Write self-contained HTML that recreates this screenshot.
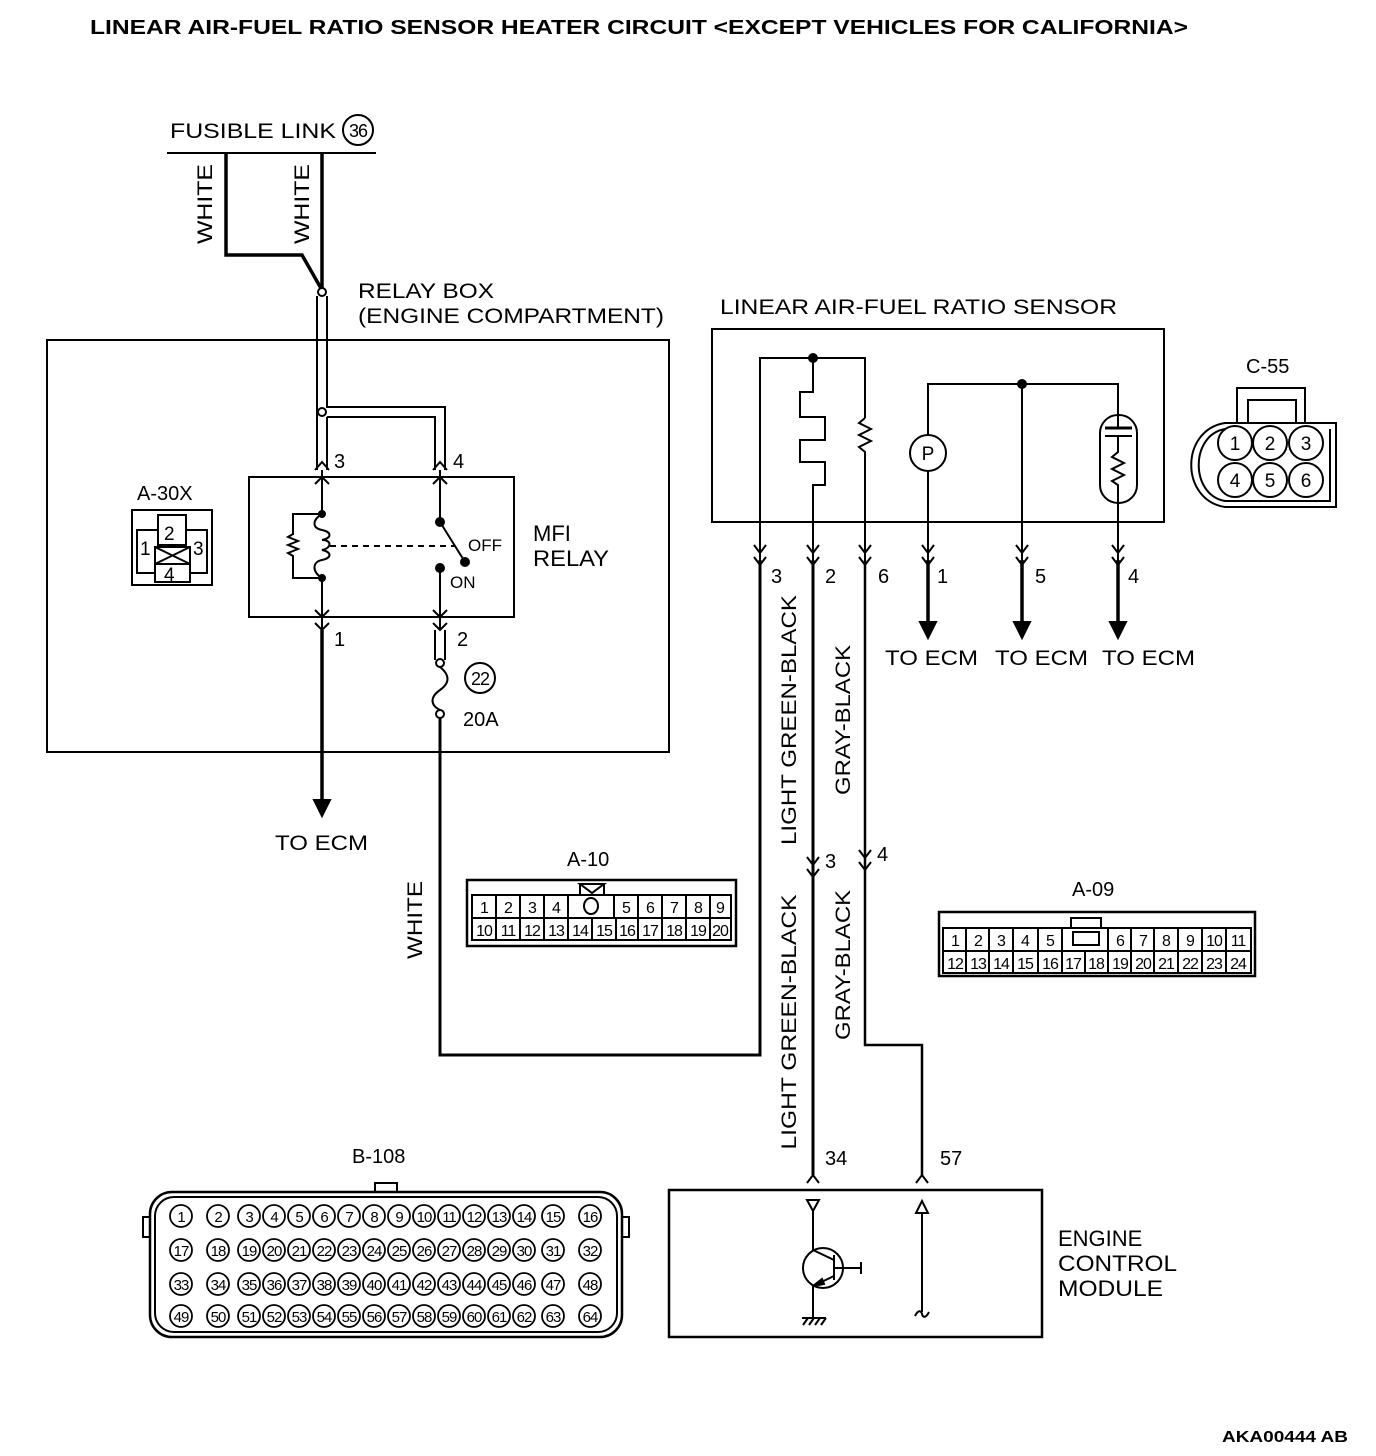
<!DOCTYPE html>
<html><head><meta charset="utf-8"><style>
html,body{margin:0;padding:0;background:#fff;}
svg{display:block;}
text{font-family:"Liberation Sans",Arial,sans-serif;fill:#000;}
</style></head><body>
<svg width="1376" height="1456" viewBox="0 0 1376 1456" xmlns="http://www.w3.org/2000/svg">
<g stroke="#000" fill="none" stroke-width="2">
<line x1="167" y1="153" x2="376" y2="153"/>
<circle cx="358" cy="130" r="15"/>
<polyline points="226,153 226,255 302,255 322,290" stroke-width="3.5"/>
<line x1="322" y1="153" x2="322" y2="290" stroke-width="3.5"/>
<circle cx="322" cy="292" r="4" fill="#fff"/>
<rect x="47" y="340" width="622" height="412"/>
<line x1="317" y1="296" x2="317" y2="470"/>
<line x1="327" y1="296" x2="327" y2="407"/>
<line x1="327" y1="417" x2="327" y2="470"/>
<circle cx="322" cy="412" r="4" fill="#fff"/>
<polyline points="326,407 445,407 445,470"/>
<polyline points="327,417 435,417 435,470"/>
<path d="M315,470 L322,462 L329,470 M315,484 L322,477 L329,484 M433,470 L440,462 L447,470 M433,484 L440,477 L447,484"/>
<rect x="249" y="477" width="265" height="140"/>
<line x1="322" y1="470" x2="322" y2="514"/>
<line x1="322" y1="578" x2="322" y2="630"/>
<path d="M322,514 C312,520 312,528 322,530 C332,532 332,538 322,540 C332,540 332,548 322,550 C332,552 332,558 322,560 C312,562 312,572 322,578"/>
<circle cx="322" cy="514" r="3" fill="#000"/>
<circle cx="322" cy="578" r="3" fill="#000"/>
<polyline points="322,514 293,514 293,534 288,537 298,541 288,545 298,549 288,553 293,556 293,578 322,578"/>
<line x1="330" y1="546" x2="455" y2="546" stroke-dasharray="6,5"/>
<line x1="440" y1="470" x2="440" y2="522"/>
<circle cx="440" cy="522" r="4" fill="#000"/>
<line x1="440" y1="522" x2="465" y2="562"/>
<circle cx="465" cy="562" r="4" fill="#000"/>
<circle cx="440" cy="568" r="4" fill="#000"/>
<line x1="440" y1="568" x2="440" y2="630"/>
<path d="M315,610 L322,617 L329,610 M315,623 L322,630 L329,623 M433,610 L440,617 L447,610 M433,623 L440,630 L447,623"/>
<line x1="322" y1="630" x2="322" y2="800" stroke-width="3.5"/>
<polygon points="314,800 330,800 322,816" fill="#000"/>
<line x1="435" y1="630" x2="435" y2="660"/>
<line x1="445" y1="630" x2="445" y2="660"/>
<circle cx="440" cy="663" r="4" fill="#fff"/>
<path d="M440,667 C450,675 450,683 440,690 C430,697 430,705 440,710"/>
<circle cx="440" cy="714" r="4" fill="#fff"/>
<circle cx="480" cy="678" r="15"/>
<polyline points="440,718 440,1055 760,1055 760,560" stroke-width="3"/>
<rect x="132" y="510" width="80" height="75"/>
<rect x="137" y="530" width="70" height="43"/>
<rect x="158" y="515" width="28" height="30" fill="#fff"/>
<rect x="155" y="547" width="35" height="35" fill="#fff"/>
<line x1="155" y1="564" x2="190" y2="564"/>
<line x1="155" y1="547" x2="190" y2="564"/>
<line x1="190" y1="547" x2="155" y2="564"/>
<rect x="712" y="329" width="452" height="193"/>
<polyline points="760,560 760,358 865,358 865,418"/>
<circle cx="813" cy="358" r="4" fill="#000"/>
<polyline points="813,358 813,392 800,392 800,417 825,417 825,440 800,440 800,462 825,462 825,485 813,485 813,560"/>
<polyline points="865,418 859,423 871,429 859,435 871,441 859,447 865,452 865,560"/>
<circle cx="928" cy="453" r="18"/>
<polyline points="928,435 928,384 1118,384 1118,428"/>
<line x1="928" y1="471" x2="928" y2="560"/>
<circle cx="1022" cy="384" r="4" fill="#000"/>
<line x1="1022" y1="384" x2="1022" y2="560"/>
<rect x="1100" y="415" width="37" height="88" rx="18"/>
<line x1="1105" y1="428" x2="1132" y2="428" stroke-width="3"/>
<line x1="1105" y1="436" x2="1132" y2="436" stroke-width="2"/>
<polyline points="1118,436 1118,452 1112,457 1124,463 1112,469 1124,475 1112,481 1118,485 1118,560"/>
<path d="M754,545 L760,553 L766,545 M754,557 L760,565 L766,557 M807,545 L813,553 L819,545 M807,557 L813,565 L819,557 M859,545 L865,553 L871,545 M859,557 L865,565 L871,557 M922,545 L928,553 L934,545 M922,557 L928,565 L934,557 M1016,545 L1022,553 L1028,545 M1016,557 L1022,565 L1028,557 M1112,545 L1118,553 L1124,545 M1112,557 L1118,565 L1124,557"/>
<g stroke-width="3.5"><line x1="928" y1="560" x2="928" y2="622"/><line x1="1022" y1="560" x2="1022" y2="622"/><line x1="1118" y1="560" x2="1118" y2="622"/></g>
<polygon points="920,622 936,622 928,638" fill="#000"/>
<polygon points="1014,622 1030,622 1022,638" fill="#000"/>
<polygon points="1110,622 1126,622 1118,638" fill="#000"/>
<line x1="813" y1="560" x2="813" y2="1175" stroke-width="3"/>
<polyline points="865,560 865,1045 922,1045 922,1175" stroke-width="2.5"/>
<path d="M807,857 L813,865 L819,857 M807,869 L813,877 L819,869 M859,850 L865,858 L871,850 M859,862 L865,870 L871,862"/>
<rect x="1237" y="388" width="68" height="35"/>
<rect x="1248" y="400" width="48" height="23"/>
<path d="M1336,423 L1336,507 L1225,507 C1180,500 1180,430 1225,423 Z"/>
<path d="M1330,429 L1330,501 L1225,501 C1190,495 1190,435 1225,429"/>
<circle cx="1235" cy="443" r="17"/><circle cx="1270" cy="443" r="17"/><circle cx="1306" cy="443" r="17"/>
<circle cx="1235" cy="480" r="17"/><circle cx="1270" cy="480" r="17"/><circle cx="1306" cy="480" r="17"/>
<rect x="467" y="880" width="269" height="66" stroke-width="2.5"/>
<path d="M472,895 L731,895 L731,940 L472,940 Z M472,918 L731,918"/>
<path d="M496,895V940 M520,895V940 M544,895V940 M568,895V918 M614,895V918 M592,918V940 M638,895V940 M662,895V940 M686,895V940 M710,895V940 M568,918V940 M616,918V940"/>
<path d="M580,884 L604,884 L592,893 Z M580,884 L580,895 M604,884 L604,895"/>
<ellipse cx="591" cy="906" rx="7" ry="8"/>
<rect x="939" y="912" width="316" height="64" stroke-width="2.5"/>
<path d="M943,928 L1251,928 L1251,973 L943,973 Z M943,951 L1251,951"/>
<path d="M966,928V973 M989,928V973 M1013,928V973 M1038,928V973 M1062,928V973 M1085,951V973 M1108,928V973 M1131,928V973 M1154,928V973 M1178,928V973 M1202,928V973 M1226,928V973"/>
<rect x="1071" y="918" width="30" height="10"/>
<rect x="1073" y="932" width="26" height="13"/>
<rect x="375" y="1183" width="22" height="9"/>
<rect x="150" y="1192" width="472" height="145" rx="22" stroke-width="2.5"/>
<rect x="155" y="1197" width="462" height="135" rx="19"/>
<rect x="143" y="1217" width="7" height="20"/>
<rect x="622" y="1217" width="7" height="20"/>
<path d="M807,1183 L813,1175 L819,1183 M916,1183 L922,1175 L928,1183"/>
<rect x="669" y="1190" width="373" height="147" stroke-width="2.5"/>
<polygon points="807,1200 819,1200 813,1211"/>
<line x1="813" y1="1211" x2="813" y2="1250"/>
<circle cx="823" cy="1268" r="20"/>
<line x1="834" y1="1255" x2="834" y2="1280"/>
<line x1="813" y1="1250" x2="834" y2="1260"/>
<line x1="834" y1="1276" x2="813" y2="1286"/>
<polygon points="813,1286 822,1279 824,1284" fill="#000"/>
<line x1="834" y1="1268" x2="861" y2="1268"/>
<line x1="861" y1="1262" x2="861" y2="1274"/>
<line x1="813" y1="1286" x2="813" y2="1318"/>
<path d="M802,1318 L826,1318 M803,1325 L808,1318 M809,1325 L814,1318 M815,1325 L820,1318 M821,1325 L826,1318"/>
<polygon points="916,1213 928,1213 922,1201"/>
<line x1="922" y1="1213" x2="922" y2="1312"/>
<path d="M915,1316 C918,1310 921,1310 922,1314 C923,1318 926,1318 929,1312"/>
</g>
<g font-size="13">
<g stroke="#000" stroke-width="1.8" fill="none">
<circle cx="181" cy="1216" r="11"/><circle cx="218" cy="1216" r="11"/><circle cx="553" cy="1216" r="11"/><circle cx="590" cy="1216" r="11"/>
<circle cx="181" cy="1250" r="11"/><circle cx="218" cy="1250" r="11"/><circle cx="553" cy="1250" r="11"/><circle cx="590" cy="1250" r="11"/>
<circle cx="181" cy="1284" r="11"/><circle cx="218" cy="1284" r="11"/><circle cx="553" cy="1284" r="11"/><circle cx="590" cy="1284" r="11"/>
<circle cx="181" cy="1316" r="11"/><circle cx="218" cy="1316" r="11"/><circle cx="553" cy="1316" r="11"/><circle cx="590" cy="1316" r="11"/>
<circle cx="249" cy="1216" r="11"/><circle cx="274" cy="1216" r="11"/><circle cx="299" cy="1216" r="11"/><circle cx="324" cy="1216" r="11"/><circle cx="349" cy="1216" r="11"/><circle cx="374" cy="1216" r="11"/><circle cx="399" cy="1216" r="11"/><circle cx="424" cy="1216" r="11"/><circle cx="449" cy="1216" r="11"/><circle cx="474" cy="1216" r="11"/><circle cx="499" cy="1216" r="11"/><circle cx="524" cy="1216" r="11"/>
<circle cx="249" cy="1250" r="11"/><circle cx="274" cy="1250" r="11"/><circle cx="299" cy="1250" r="11"/><circle cx="324" cy="1250" r="11"/><circle cx="349" cy="1250" r="11"/><circle cx="374" cy="1250" r="11"/><circle cx="399" cy="1250" r="11"/><circle cx="424" cy="1250" r="11"/><circle cx="449" cy="1250" r="11"/><circle cx="474" cy="1250" r="11"/><circle cx="499" cy="1250" r="11"/><circle cx="524" cy="1250" r="11"/>
<circle cx="249" cy="1284" r="11"/><circle cx="274" cy="1284" r="11"/><circle cx="299" cy="1284" r="11"/><circle cx="324" cy="1284" r="11"/><circle cx="349" cy="1284" r="11"/><circle cx="374" cy="1284" r="11"/><circle cx="399" cy="1284" r="11"/><circle cx="424" cy="1284" r="11"/><circle cx="449" cy="1284" r="11"/><circle cx="474" cy="1284" r="11"/><circle cx="499" cy="1284" r="11"/><circle cx="524" cy="1284" r="11"/>
<circle cx="249" cy="1316" r="11"/><circle cx="274" cy="1316" r="11"/><circle cx="299" cy="1316" r="11"/><circle cx="324" cy="1316" r="11"/><circle cx="349" cy="1316" r="11"/><circle cx="374" cy="1316" r="11"/><circle cx="399" cy="1316" r="11"/><circle cx="424" cy="1316" r="11"/><circle cx="449" cy="1316" r="11"/><circle cx="474" cy="1316" r="11"/><circle cx="499" cy="1316" r="11"/><circle cx="524" cy="1316" r="11"/>
</g>
<g text-anchor="middle" font-size="15" letter-spacing="-1">
<text x="181" y="1222">1</text><text x="218" y="1222">2</text><text x="249" y="1222">3</text><text x="274" y="1222">4</text><text x="299" y="1222">5</text><text x="324" y="1222">6</text><text x="349" y="1222">7</text><text x="374" y="1222">8</text><text x="399" y="1222">9</text><text x="424" y="1222">10</text><text x="449" y="1222">11</text><text x="474" y="1222">12</text><text x="499" y="1222">13</text><text x="524" y="1222">14</text><text x="553" y="1222">15</text><text x="590" y="1222">16</text>
<text x="181" y="1256">17</text><text x="218" y="1256">18</text><text x="249" y="1256">19</text><text x="274" y="1256">20</text><text x="299" y="1256">21</text><text x="324" y="1256">22</text><text x="349" y="1256">23</text><text x="374" y="1256">24</text><text x="399" y="1256">25</text><text x="424" y="1256">26</text><text x="449" y="1256">27</text><text x="474" y="1256">28</text><text x="499" y="1256">29</text><text x="524" y="1256">30</text><text x="553" y="1256">31</text><text x="590" y="1256">32</text>
<text x="181" y="1290">33</text><text x="218" y="1290">34</text><text x="249" y="1290">35</text><text x="274" y="1290">36</text><text x="299" y="1290">37</text><text x="324" y="1290">38</text><text x="349" y="1290">39</text><text x="374" y="1290">40</text><text x="399" y="1290">41</text><text x="424" y="1290">42</text><text x="449" y="1290">43</text><text x="474" y="1290">44</text><text x="499" y="1290">45</text><text x="524" y="1290">46</text><text x="553" y="1290">47</text><text x="590" y="1290">48</text>
<text x="181" y="1322">49</text><text x="218" y="1322">50</text><text x="249" y="1322">51</text><text x="274" y="1322">52</text><text x="299" y="1322">53</text><text x="324" y="1322">54</text><text x="349" y="1322">55</text><text x="374" y="1322">56</text><text x="399" y="1322">57</text><text x="424" y="1322">58</text><text x="449" y="1322">59</text><text x="474" y="1322">60</text><text x="499" y="1322">61</text><text x="524" y="1322">62</text><text x="553" y="1322">63</text><text x="590" y="1322">64</text>
</g>
<g text-anchor="middle" font-size="16" letter-spacing="-1">
<text x="484" y="913">1</text><text x="508" y="913">2</text><text x="532" y="913">3</text><text x="556" y="913">4</text><text x="626" y="913">5</text><text x="650" y="913">6</text><text x="674" y="913">7</text><text x="698" y="913">8</text><text x="720" y="913">9</text>
<text x="484" y="936">10</text><text x="508" y="936">11</text><text x="532" y="936">12</text><text x="556" y="936">13</text><text x="580" y="936">14</text><text x="604" y="936">15</text><text x="627" y="936">16</text><text x="650" y="936">17</text><text x="674" y="936">18</text><text x="698" y="936">19</text><text x="720" y="936">20</text>
<text x="955" y="946">1</text><text x="978" y="946">2</text><text x="1001" y="946">3</text><text x="1025" y="946">4</text><text x="1050" y="946">5</text><text x="1120" y="946">6</text><text x="1143" y="946">7</text><text x="1166" y="946">8</text><text x="1190" y="946">9</text><text x="1214" y="946">10</text><text x="1238" y="946">11</text>
<text x="955" y="969">12</text><text x="978" y="969">13</text><text x="1001" y="969">14</text><text x="1025" y="969">15</text><text x="1050" y="969">16</text><text x="1073" y="969">17</text><text x="1096" y="969">18</text><text x="1120" y="969">19</text><text x="1143" y="969">20</text><text x="1166" y="969">21</text><text x="1190" y="969">22</text><text x="1214" y="969">23</text><text x="1238" y="969">24</text>
</g>
</g>
<g font-size="21">
<text x="90" y="34" font-weight="bold" font-size="20" textLength="1098" lengthAdjust="spacingAndGlyphs">LINEAR AIR-FUEL RATIO SENSOR HEATER CIRCUIT &lt;EXCEPT VEHICLES FOR CALIFORNIA&gt;</text>
<text x="170" y="138" textLength="166" lengthAdjust="spacingAndGlyphs">FUSIBLE LINK</text>
<text x="358" y="137" font-size="18" text-anchor="middle" letter-spacing="-1">36</text>
<text transform="translate(212,204) rotate(-90)" text-anchor="middle" textLength="80" lengthAdjust="spacingAndGlyphs">WHITE</text>
<text transform="translate(309,204) rotate(-90)" text-anchor="middle" textLength="80" lengthAdjust="spacingAndGlyphs">WHITE</text>
<text x="358" y="298" textLength="136" lengthAdjust="spacingAndGlyphs">RELAY BOX</text>
<text x="358" y="323" textLength="306" lengthAdjust="spacingAndGlyphs">(ENGINE COMPARTMENT)</text>
<text x="137" y="500" font-size="20">A-30X</text>
<text x="164" y="540" font-size="19">2</text>
<text x="140" y="555" font-size="19">1</text>
<text x="193" y="555" font-size="19">3</text>
<text x="164" y="581" font-size="19">4</text>
<text x="334" y="468" font-size="20">3</text>
<text x="453" y="468" font-size="20">4</text>
<text x="468" y="551" font-size="17">OFF</text>
<text x="450" y="588" font-size="17">ON</text>
<text x="533" y="541" font-size="22">MFI</text>
<text x="533" y="566" font-size="22" textLength="76" lengthAdjust="spacingAndGlyphs">RELAY</text>
<text x="334" y="646" font-size="20">1</text>
<text x="457" y="646" font-size="20">2</text>
<text x="480" y="685" font-size="18" text-anchor="middle" letter-spacing="-1">22</text>
<text x="463" y="726" font-size="20">20A</text>
<text x="275" y="850" textLength="93" lengthAdjust="spacingAndGlyphs">TO ECM</text>
<text transform="translate(422,920) rotate(-90)" text-anchor="middle" textLength="78" lengthAdjust="spacingAndGlyphs">WHITE</text>
<text x="720" y="314" textLength="397" lengthAdjust="spacingAndGlyphs">LINEAR AIR-FUEL RATIO SENSOR</text>
<text x="928" y="460" text-anchor="middle" font-size="19">P</text>
<text x="1246" y="373" font-size="20">C-55</text>
<g text-anchor="middle" font-size="19"><text x="1235" y="450">1</text><text x="1270" y="450">2</text><text x="1306" y="450">3</text><text x="1235" y="487">4</text><text x="1270" y="487">5</text><text x="1306" y="487">6</text></g>
<g font-size="20"><text x="771" y="583">3</text><text x="825" y="583">2</text><text x="878" y="583">6</text><text x="937" y="583">1</text><text x="1035" y="583">5</text><text x="1128" y="583">4</text></g>
<text x="885" y="665" textLength="93" lengthAdjust="spacingAndGlyphs">TO ECM</text>
<text x="995" y="665" textLength="93" lengthAdjust="spacingAndGlyphs">TO ECM</text>
<text x="1102" y="665" textLength="93" lengthAdjust="spacingAndGlyphs">TO ECM</text>
<text transform="translate(796,720) rotate(-90)" text-anchor="middle" textLength="250" lengthAdjust="spacingAndGlyphs">LIGHT GREEN-BLACK</text>
<text transform="translate(850,720) rotate(-90)" text-anchor="middle" textLength="150" lengthAdjust="spacingAndGlyphs">GRAY-BLACK</text>
<g font-size="20"><text x="825" y="868">3</text><text x="877" y="861">4</text></g>
<text transform="translate(796,1022) rotate(-90)" text-anchor="middle" textLength="255" lengthAdjust="spacingAndGlyphs">LIGHT GREEN-BLACK</text>
<text transform="translate(850,965) rotate(-90)" text-anchor="middle" textLength="150" lengthAdjust="spacingAndGlyphs">GRAY-BLACK</text>
<text x="567" y="866" font-size="20">A-10</text>
<text x="1072" y="896" font-size="20">A-09</text>
<text x="352" y="1163" font-size="20">B-108</text>
<text x="825" y="1165" font-size="20">34</text>
<text x="940" y="1165" font-size="20">57</text>
<text x="1058" y="1246" font-size="22">ENGINE</text>
<text x="1058" y="1271" font-size="22" textLength="119" lengthAdjust="spacingAndGlyphs">CONTROL</text>
<text x="1058" y="1296" font-size="22" textLength="105" lengthAdjust="spacingAndGlyphs">MODULE</text>
<text x="1222" y="1442" font-weight="bold" font-size="16" textLength="126" lengthAdjust="spacingAndGlyphs">AKA00444 AB</text>
</g>
</svg>
</body></html>
